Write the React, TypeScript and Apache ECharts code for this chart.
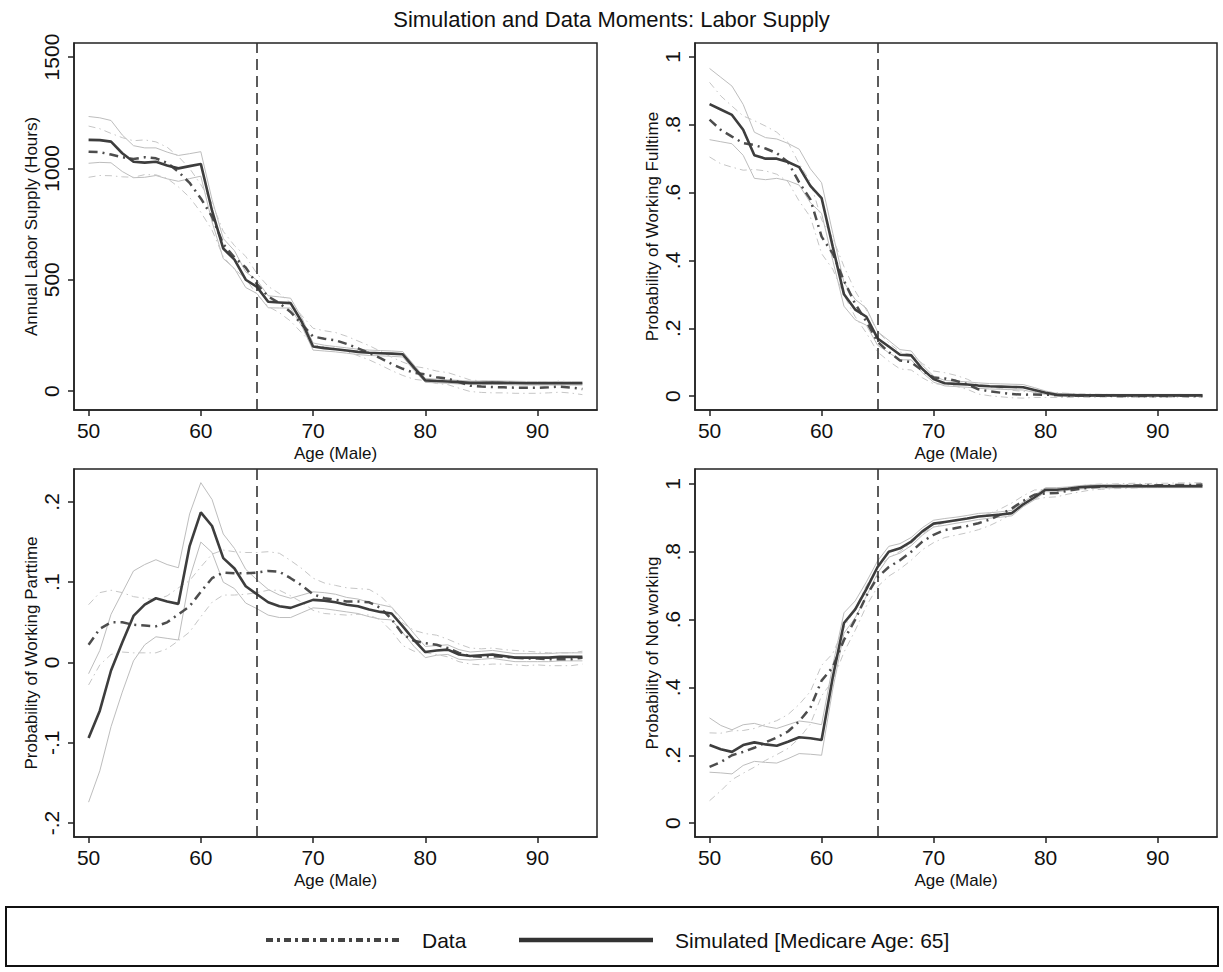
import React, { useEffect, useRef } from "react";
import * as echarts from "echarts";

// ---------------- data (ages 50..94) ----------------
const ages = [50, 51, 52, 53, 54, 55, 56, 57, 58, 59, 60, 61, 62, 63, 64, 65, 66, 67, 68, 69, 70, 71, 72, 73, 74, 75, 76, 77, 78, 79, 80, 81, 82, 83, 84, 85, 86, 87, 88, 89, 90, 91, 92, 93, 94];

const ageTicks = [50, 60, 70, 80, 90];
const hoursTicks = [0, 500, 1000, 1500];
const probTicks = [0, 0.2, 0.4, 0.6, 0.8, 1];
const partTicks = [-0.2, -0.1, 0, 0.1, 0.2];
const medicareAge = 65;

// Annual labor supply (hours)
const simHours = [1128, 1127, 1120, 1068, 1030, 1026, 1030, 1013, 1000, 1010, 1020, 810, 640, 590, 500, 468, 401, 398, 395, 310, 200, 193, 188, 182, 176, 172, 170, 168, 165, 105, 48, 45, 43, 40, 37, 37, 38, 37, 36, 35, 35, 35, 35, 35, 35];
const simHoursHw = [105, 100, 95, 82, 72, 66, 62, 60, 58, 56, 55, 50, 45, 40, 35, 30, 27, 25, 22, 19, 16, 13, 12, 12, 12, 12, 12, 12, 12, 12, 9, 8, 8, 8, 8, 8, 8, 8, 8, 8, 8, 8, 8, 8, 8];
const dataHours = [1075, 1073, 1062, 1050, 1042, 1050, 1045, 1025, 985, 935, 865, 783, 660, 600, 555, 480, 425, 395, 355, 300, 245, 235, 228, 212, 192, 172, 148, 122, 100, 82, 75, 62, 56, 40, 24, 20, 18, 17, 15, 15, 15, 17, 20, 16, 9];
const dataHoursHw = [115, 105, 95, 88, 82, 78, 74, 70, 68, 65, 62, 60, 57, 53, 50, 47, 45, 43, 41, 39, 37, 36, 35, 34, 33, 32, 31, 30, 30, 29, 28, 28, 27, 27, 26, 26, 26, 25, 25, 25, 25, 25, 25, 25, 25];

// Probability of working full time
const simFull = [0.861, 0.845, 0.829, 0.785, 0.71, 0.7, 0.7, 0.69, 0.675, 0.62, 0.584, 0.44, 0.3, 0.255, 0.234, 0.17, 0.146, 0.122, 0.12, 0.08, 0.05, 0.038, 0.036, 0.034, 0.031, 0.029, 0.028, 0.027, 0.026, 0.018, 0.01, 0.004, 0.003, 0.002, 0.002, 0.002, 0.002, 0.002, 0.002, 0.002, 0.002, 0.002, 0.002, 0.002, 0.002];
const simFullHw = [0.105, 0.095, 0.085, 0.075, 0.068, 0.062, 0.058, 0.055, 0.053, 0.05, 0.045, 0.04, 0.035, 0.03, 0.025, 0.02, 0.018, 0.015, 0.013, 0.011, 0.009, 0.008, 0.008, 0.008, 0.008, 0.008, 0.008, 0.008, 0.008, 0.007, 0.005, 0.004, 0.004, 0.003, 0.003, 0.003, 0.003, 0.003, 0.003, 0.003, 0.003, 0.003, 0.003, 0.003, 0.003];
const dataFull = [0.815, 0.785, 0.765, 0.746, 0.74, 0.73, 0.716, 0.69, 0.63, 0.58, 0.47, 0.42, 0.34, 0.272, 0.22, 0.16, 0.13, 0.105, 0.1, 0.075, 0.055, 0.052, 0.045, 0.035, 0.02, 0.014, 0.01, 0.006, 0.004, 0.005, 0.004, 0.003, 0.002, 0.002, 0.001, 0.001, 0.001, 0.0, 0.0, 0.0, 0.0, 0.0, 0.001, 0.0, 0.0];
const dataFullHw = [0.11, 0.1, 0.09, 0.08, 0.072, 0.066, 0.062, 0.058, 0.055, 0.052, 0.05, 0.046, 0.042, 0.038, 0.034, 0.03, 0.027, 0.025, 0.023, 0.021, 0.019, 0.017, 0.016, 0.015, 0.014, 0.013, 0.012, 0.011, 0.01, 0.009, 0.008, 0.007, 0.006, 0.005, 0.005, 0.004, 0.004, 0.004, 0.004, 0.004, 0.004, 0.004, 0.004, 0.004, 0.004];

// Probability of working part time
const simPart = [-0.094, -0.06, -0.01, 0.025, 0.058, 0.072, 0.08, 0.076, 0.073, 0.145, 0.187, 0.17, 0.13, 0.117, 0.095, 0.085, 0.075, 0.07, 0.068, 0.073, 0.078, 0.077, 0.075, 0.072, 0.07, 0.066, 0.063, 0.061, 0.045, 0.028, 0.013, 0.015, 0.016, 0.01, 0.008, 0.009, 0.01, 0.008, 0.006, 0.006, 0.006, 0.006, 0.007, 0.007, 0.007];
const simPartHw = [0.08, 0.075, 0.07, 0.062, 0.056, 0.05, 0.048, 0.046, 0.045, 0.04, 0.037, 0.033, 0.03, 0.025, 0.021, 0.018, 0.016, 0.014, 0.012, 0.011, 0.01, 0.01, 0.01, 0.009, 0.009, 0.009, 0.009, 0.008, 0.008, 0.008, 0.007, 0.006, 0.006, 0.006, 0.005, 0.005, 0.005, 0.005, 0.005, 0.005, 0.005, 0.005, 0.005, 0.005, 0.005];
const dataPart = [0.022, 0.042, 0.05, 0.05, 0.047, 0.046, 0.045, 0.05, 0.06, 0.07, 0.088, 0.105, 0.112, 0.111, 0.111, 0.112, 0.114, 0.113, 0.105, 0.096, 0.085, 0.08, 0.078, 0.076, 0.076, 0.075, 0.068, 0.054, 0.035, 0.027, 0.024, 0.022, 0.018, 0.012, 0.008, 0.007, 0.008, 0.007, 0.006, 0.005, 0.005, 0.004, 0.004, 0.004, 0.006];
const dataPartHw = [0.05, 0.045, 0.04, 0.037, 0.035, 0.034, 0.033, 0.033, 0.033, 0.032, 0.031, 0.03, 0.028, 0.027, 0.026, 0.025, 0.024, 0.023, 0.022, 0.021, 0.02, 0.019, 0.018, 0.017, 0.016, 0.016, 0.015, 0.015, 0.014, 0.013, 0.012, 0.012, 0.011, 0.011, 0.01, 0.01, 0.01, 0.009, 0.009, 0.009, 0.008, 0.008, 0.008, 0.008, 0.008];

// Probability of not working
const simNot = [0.23, 0.218, 0.21, 0.23, 0.238, 0.232, 0.228, 0.24, 0.253, 0.25, 0.245, 0.43, 0.59, 0.63, 0.69, 0.755, 0.8, 0.81, 0.83, 0.86, 0.883, 0.888, 0.893, 0.898, 0.904, 0.907, 0.91, 0.914, 0.94, 0.96, 0.983, 0.983, 0.986, 0.99, 0.992, 0.993, 0.993, 0.993, 0.993, 0.993, 0.993, 0.993, 0.993, 0.993, 0.993];
const simNotHw = [0.08, 0.07, 0.065, 0.06, 0.056, 0.053, 0.051, 0.05, 0.048, 0.047, 0.045, 0.035, 0.03, 0.025, 0.021, 0.018, 0.016, 0.014, 0.012, 0.011, 0.01, 0.01, 0.009, 0.009, 0.009, 0.008, 0.008, 0.008, 0.007, 0.007, 0.006, 0.006, 0.005, 0.005, 0.005, 0.005, 0.005, 0.004, 0.004, 0.004, 0.004, 0.004, 0.004, 0.004, 0.004];
const dataNot = [0.166, 0.18, 0.2, 0.21, 0.222, 0.238, 0.252, 0.27, 0.3, 0.34, 0.42, 0.46, 0.54, 0.6, 0.67, 0.725, 0.755, 0.775, 0.8, 0.83, 0.85, 0.864, 0.87, 0.876, 0.884, 0.895, 0.91, 0.928, 0.95, 0.968, 0.972, 0.973, 0.98, 0.985, 0.99, 0.992, 0.993, 0.994, 0.995, 0.995, 0.996, 0.996, 0.997, 0.997, 0.998];
const dataNotHw = [0.1, 0.085, 0.072, 0.063, 0.057, 0.053, 0.05, 0.05, 0.05, 0.048, 0.045, 0.04, 0.036, 0.032, 0.03, 0.028, 0.027, 0.026, 0.025, 0.024, 0.023, 0.022, 0.021, 0.02, 0.019, 0.018, 0.017, 0.016, 0.015, 0.014, 0.012, 0.011, 0.01, 0.009, 0.008, 0.008, 0.007, 0.007, 0.007, 0.006, 0.006, 0.006, 0.006, 0.006, 0.006];

const titleText = "Simulation and Data Moments: Labor Supply";
const xTitle = "Age (Male)";
const legendData = "Data";
const legendSim = "Simulated [Medicare Age: 65]";

// ---------------- layout / styles ----------------
const FONT = '"Liberation Sans", Arial, Helvetica, sans-serif';
const INK = "#111111";
const SIM_COLOR = "#3d3d3d";
const DATA_COLOR = "#4d4d4d";
const BAND_SIM = "#bdbdbd";
const BAND_DATA = "#c6c6c6";

type Panel = {
  grid: { left: number; top: number; width: number; height: number };
  yTitle: string;
  yMin: number;
  yMax: number;
  yTicks: number[];
  sim: number[];
  simHw: number[];
  data: number[];
  dataHw: number[];
};

const panels: Panel[] = [
  { grid: { left: 74, top: 43, width: 523, height: 367 }, yTitle: "Annual Labor Supply (Hours)", yMin: -85, yMax: 1563, yTicks: hoursTicks, sim: simHours, simHw: simHoursHw, data: dataHours, dataHw: dataHoursHw },
  { grid: { left: 695, top: 43, width: 522, height: 367 }, yTitle: "Probability of Working Fulltime", yMin: -0.041, yMax: 1.041, yTicks: probTicks, sim: simFull, simHw: simFullHw, data: dataFull, dataHw: dataFullHw },
  { grid: { left: 74, top: 469, width: 523, height: 368 }, yTitle: "Probability of Working Parttime", yMin: -0.2174, yMax: 0.241, yTicks: partTicks, sim: simPart, simHw: simPartHw, data: dataPart, dataHw: dataPartHw },
  { grid: { left: 695, top: 469, width: 522, height: 368 }, yTitle: "Probability of Not working", yMin: -0.041, yMax: 1.044, yTicks: probTicks, sim: simNot, simHw: simNotHw, data: dataNot, dataHw: dataNotHw },
];

function stataFmt(v: number): string {
  const r = Math.round(v * 1000) / 1000;
  if (r === 0) return "0";
  return String(r).replace(/^0\./, ".").replace(/^-0\./, "-.");
}

function pairs(vals: number[]): number[][] {
  return ages.map((a, i) => [a, vals[i]]);
}
function pairsOffset(vals: number[], hw: number[], sign: number): number[][] {
  return ages.map((a, i) => [a, vals[i] + sign * hw[i]]);
}

function buildOption(): any {
  const grids: any[] = [];
  const xAxes: any[] = [];
  const yAxes: any[] = [];
  const series: any[] = [];

  panels.forEach((p, i) => {
    grids.push({ ...p.grid, show: true, borderColor: "#222", borderWidth: 1.5, backgroundColor: "#fff", containLabel: false });
    xAxes.push({
      type: "value",
      gridIndex: i,
      min: 48.7,
      max: 95.3,
      name: xTitle,
      nameLocation: "middle",
      nameGap: 35,
      nameTextStyle: { fontSize: 17, fontFamily: FONT, color: INK },
      axisLine: { show: true, onZero: false, lineStyle: { color: "#222", width: 1.5 } },
      axisTick: { show: true, length: 6, customValues: ageTicks, lineStyle: { color: "#222", width: 1.5 } },
      axisLabel: { customValues: ageTicks, fontSize: 21, fontFamily: FONT, color: INK, margin: 10, formatter: (v: number) => stataFmt(v) },
      splitLine: { show: false },
    });
    yAxes.push({
      type: "value",
      gridIndex: i,
      min: p.yMin,
      max: p.yMax,
      name: p.yTitle,
      nameLocation: "middle",
      nameGap: 32,
      nameTextStyle: { fontSize: 17, fontFamily: FONT, color: INK },
      axisLine: { show: true, onZero: false, lineStyle: { color: "#222", width: 1.5 } },
      axisTick: { show: true, length: 6, customValues: p.yTicks, lineStyle: { color: "#222", width: 1.5 } },
      axisLabel: { customValues: p.yTicks, rotate: 90, fontSize: 21, fontFamily: FONT, color: INK, margin: 12, formatter: (v: number) => stataFmt(v) },
      splitLine: { show: false },
    });

    const base = { type: "line", xAxisIndex: i, yAxisIndex: i, showSymbol: false, symbol: "none", silent: true };
    series.push({ ...base, z: 2, data: pairsOffset(p.sim, p.simHw, 1), lineStyle: { color: BAND_SIM, width: 1 } });
    series.push({ ...base, z: 2, data: pairsOffset(p.sim, p.simHw, -1), lineStyle: { color: BAND_SIM, width: 1 } });
    series.push({ ...base, z: 2, data: pairsOffset(p.data, p.dataHw, 1), lineStyle: { color: BAND_DATA, width: 1, type: [7, 4, 1.5, 4] } });
    series.push({ ...base, z: 2, data: pairsOffset(p.data, p.dataHw, -1), lineStyle: { color: BAND_DATA, width: 1, type: [7, 4, 1.5, 4] } });
    series.push({
      ...base,
      z: 3,
      data: pairs(p.data),
      lineStyle: { color: DATA_COLOR, width: 2.5, type: [9, 5, 2, 5] },
      markLine: {
        silent: true,
        symbol: ["none", "none"],
        label: { show: false },
        lineStyle: { color: "#333", width: 1.6, type: [11, 6] },
        data: [{ xAxis: medicareAge }],
      },
    });
    series.push({ ...base, z: 4, data: pairs(p.sim), lineStyle: { color: SIM_COLOR, width: 2.6 } });
  });

  const legendY = 940;
  const graphic: any[] = [
    { type: "rect", silent: true, shape: { x: 6, y: 907, width: 1212, height: 59 }, style: { fill: "#fff", stroke: "#111", lineWidth: 2 }, z: 0 },
    { type: "line", silent: true, shape: { x1: 266, y1: legendY, x2: 400, y2: legendY }, style: { stroke: "#444", lineWidth: 4, lineDash: [7, 4, 3, 4] }, z: 1 },
    { type: "text", silent: true, x: 422, y: legendY, style: { text: legendData, fontSize: 21, fontFamily: FONT, fill: INK, align: "left", verticalAlign: "middle" }, z: 1 },
    { type: "line", silent: true, shape: { x1: 519, y1: legendY, x2: 653, y2: legendY }, style: { stroke: "#333", lineWidth: 4.5 }, z: 1 },
    { type: "text", silent: true, x: 675, y: legendY, style: { text: legendSim, fontSize: 21, fontFamily: FONT, fill: INK, align: "left", verticalAlign: "middle" }, z: 1 },
  ];

  return {
    animation: false,
    backgroundColor: "#ffffff",
    title: { text: titleText, left: "center", top: 3, textStyle: { fontSize: 22, fontWeight: "normal", fontFamily: FONT, color: INK } },
    grid: grids,
    xAxis: xAxes,
    yAxis: yAxes,
    series,
    graphic,
  };
}

export default function App() {
  const ref = useRef<HTMLDivElement | null>(null);
  useEffect(() => {
    if (!ref.current) return;
    const chart = echarts.init(ref.current, undefined, { renderer: "svg" });
    chart.setOption(buildOption());
    return () => chart.dispose();
  }, []);
  return <div ref={ref} style={{ position: "fixed", left: 0, top: 0, width: 1223, height: 972, background: "#fff" }} />;
}
